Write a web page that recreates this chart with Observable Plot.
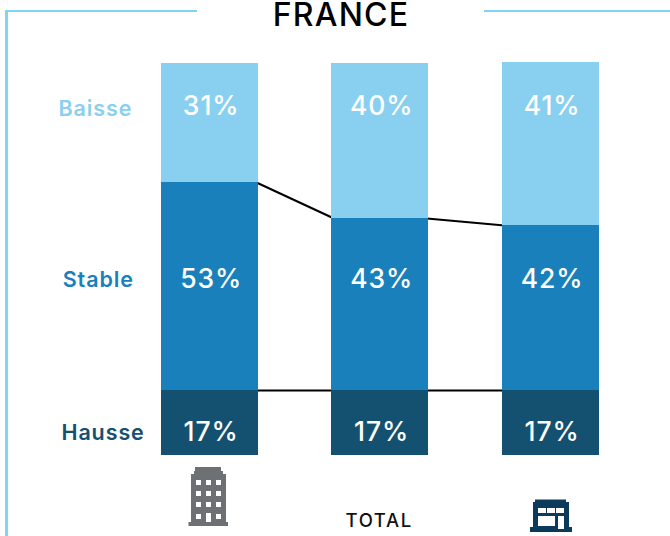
<!DOCTYPE html>
<html lang="fr">
<head>
<meta charset="utf-8">
<title>FRANCE</title>
<script src="https://cdn.jsdelivr.net/npm/d3@7"></script>
<script src="https://cdn.jsdelivr.net/npm/@observablehq/plot@0.6"></script>
<style>
  html, body { margin: 0; padding: 0; background: #fff; overflow: hidden; }
  #page { position: relative; width: 670px; height: 536px; }
  #page svg { display: block; }
  .frame { position: absolute; background: #7fd4f3; }
  #title { position: absolute; left: 241px; width: 200px; top: 0; text-align: center;
           font: 500 32px/29px Inter, sans-serif; letter-spacing: 1.2px; color: #000; }
  .pct text { letter-spacing: 0.9px; }
  .names text { letter-spacing: 0.9px; }
  .total text { letter-spacing: 1.6px; }
</style>
</head>
<body>
<div id="page">
  <div class="frame" style="left:5px;top:9.5px;width:192px;height:2.5px"></div>
  <div class="frame" style="left:5px;top:9.5px;width:2.5px;height:526.5px"></div>
  <div class="frame" style="left:484px;top:9.5px;width:186px;height:2.5px"></div>
  <div id="title">FRANCE</div>
</div>
<script>
const columns = [0, 1, 2];
const seriesNames = ["Hausse", "Stable", "Baisse"];
const seriesColors = ["#14506f", "#1a80bb", "#89d0f0"];
const hausse = [16.58, 16.58, 16.58];
const stable = [53.06, 43.88, 42.09];
const baisse = [30.36, 39.54, 41.58];
const hausseLabels = ["17%", "17%", "17%"];
const stableLabels = ["53%", "43%", "42%"];
const baisseLabels = ["31%", "40%", "41%"];
const rowY = [5.95, 45.0, 89.0];
const seriesLabelX = [-0.627, -0.655, -0.672];
const seriesLabelY = [5.7, 44.8, 88.3];
const halfBar = 0.2845;
const labelNudge = 0.007;
const overlap = 0.012;
const font = "Inter, sans-serif";

const values = [hausse, stable, baisse];
const labels = [hausseLabels, stableLabels, baisseLabels];

const segments = [];
columns.forEach((c, i) => {
  let base = 0;
  values.forEach((v, s) => {
    segments.push({c, s, y1: base, y2: base + v[i], label: labels[s][i], rowY: rowY[s]});
    base += v[i];
  });
});

const connectors = [];
for (const i of [0, 1]) {
  const low = hausse[i], lowNext = hausse[i + 1];
  const x1 = columns[i] + halfBar - overlap, x2 = columns[i + 1] - halfBar + overlap;
  connectors.push({x1, x2, y1: low, y2: lowNext});
  connectors.push({x1, x2, y1: low + stable[i], y2: lowNext + stable[i + 1]});
}

const series = seriesNames.map((name, s) => ({
  name, color: seriesColors[s], x: seriesLabelX[s], y: seriesLabelY[s]
}));

const buildingIcon = "data:image/svg+xml," + encodeURIComponent(
  `<svg xmlns="http://www.w3.org/2000/svg" viewBox="0 0 40 60" shape-rendering="crispEdges">
   <path fill="#6e7174" fill-rule="evenodd" d="M7 0h26v4h2v3h3v48h2v4H0v-4h3V7h3V4h1z
   M8 13v5h5v-5z M18 13v5h5v-5z M28 13v5h5v-5z
   M8 24v5h5v-5z M18 24v5h5v-5z M28 24v5h5v-5z
   M8 35v5h5v-5z M18 35v5h5v-5z M28 35v5h5v-5z
   M8 47v5h5v-5z M18 46v9h5v-9z M28 47v5h5v-5z"/></svg>`);
const shopIcon = "data:image/svg+xml," + encodeURIComponent(
  `<svg xmlns="http://www.w3.org/2000/svg" viewBox="0 0 42 33" shape-rendering="crispEdges">
   <path fill="#0b3a5b" fill-rule="evenodd" d="M5 0h31v3h3v25h3v5H0v-5h3V3h2z
   M8 9v5h8v-5z M17 9v5h8v-5z M26 9v5h8v-5z
   M8 17v10h17v-10z M28 17v13h6v-13z"/></svg>`);

const icons = [
  {x: -0.0088, y: -10.6, src: buildingIcon, w: 40, h: 60},
  {x: 2.0, y: -15.4, src: shopIcon, w: 42, h: 33}
];

const chart = Plot.plot({
  width: 670,
  height: 536,
  margin: 0,
  x: {domain: [-1.2287, 2.701], range: [0, 670], axis: null},
  y: {domain: [-20.66, 116.07], range: [536, 0], axis: null},
  style: {fontFamily: font, background: "transparent"},
  marks: [
    Plot.link(connectors, {x1: "x1", x2: "x2", y1: "y1", y2: "y2", stroke: "#000", strokeWidth: 2}),
    Plot.rectY(segments, {
      x1: d => d.c - halfBar, x2: d => d.c + halfBar,
      y1: "y1", y2: "y2",
      fill: d => seriesColors[d.s], shapeRendering: "crispEdges"
    }),
    Plot.text(segments, {
      x: d => d.c + labelNudge, y: "rowY", text: "label", fill: "#fff",
      fontSize: 26.5, fontWeight: 500, className: "pct"
    }),
    Plot.text(series, {
      x: "x", y: "y", text: "name", fill: "color",
      fontSize: 21.5, fontWeight: 600, className: "names"
    }),
    Plot.text(["TOTAL"], {
      x: [0.992], y: [-16.75], text: d => d, fill: "#111", fontSize: 18.5, fontWeight: 500, className: "total"
    }),
    Plot.image(icons, {x: "x", y: "y", src: "src", width: "w", height: "h"})
  ]
});
document.getElementById("page").prepend(chart);
</script>
</body>
</html>
